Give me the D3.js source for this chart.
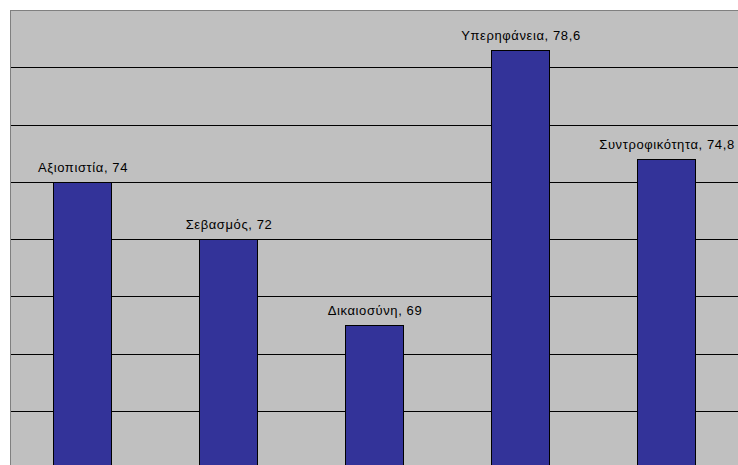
<!DOCTYPE html>
<html>
<head>
<meta charset="utf-8">
<script src="https://cdn.jsdelivr.net/npm/d3@7"></script>
<style>
  html, body { margin: 0; padding: 0; background: #ffffff; }
  svg { display: block; }
</style>
</head>
<body>
<svg id="chart" width="738" height="465"></svg>
<script>
// Category names and scores
const categories = ["Αξιοπιστία", "Σεβασμός", "Δικαιοσύνη", "Υπερηφάνεια", "Συντροφικότητα"];
const values = [74, 72, 69, 78.6, 74.8];
const valueLabels = ["74", "72", "69", "78,6", "74,8"];
// Value axis gridlines
const gridTicks = [66, 68, 70, 72, 74, 76, 78];

const svg = d3.select("#chart");
const plot = { left: 10, top: 10, right: 740, bottom: 468 };

const x = d3.scaleBand()
  .domain(categories)
  .range([plot.left, plot.right])
  .paddingInner(0.6)
  .paddingOuter(0.3);

const y = d3.scaleLinear()
  .domain([64, 80])
  .range([plot.bottom, plot.top]);

// Plot area background
svg.append("rect")
  .attr("x", plot.left + 0.5)
  .attr("y", plot.top + 0.5)
  .attr("width", plot.right - plot.left)
  .attr("height", plot.bottom - plot.top)
  .attr("fill", "#c0c0c0")
  .attr("stroke", "#808080")
  .attr("stroke-width", 1);

// Horizontal gridlines
svg.append("g")
  .selectAll("line")
  .data(gridTicks)
  .join("line")
  .attr("x1", plot.left + 1)
  .attr("x2", plot.right)
  .attr("y1", d => Math.round(y(d)) + 0.5)
  .attr("y2", d => Math.round(y(d)) + 0.5)
  .attr("stroke", "#000000")
  .attr("stroke-width", 1);

const data = categories.map((c, i) => ({ name: c, value: values[i], label: valueLabels[i] }));

// Bars
svg.append("g")
  .selectAll("rect")
  .data(data)
  .join("rect")
  .attr("x", d => Math.floor(x(d.name)) + 0.5)
  .attr("y", d => Math.round(y(d.value)) + 0.5)
  .attr("width", Math.round(x.bandwidth()))
  .attr("height", d => plot.bottom - Math.round(y(d.value)))
  .attr("fill", "#333399")
  .attr("stroke", "#000000")
  .attr("stroke-width", 1);

// Data labels: "category, value"
svg.append("g")
  .selectAll("text")
  .data(data)
  .join("text")
  .attr("x", d => x(d.name) + x.bandwidth() / 2)
  .attr("y", d => y(d.value) - 10)
  .attr("text-anchor", "middle")
  .attr("font-family", "Liberation Sans, Arial, sans-serif")
  .attr("font-size", 13)
  .attr("letter-spacing", 0.6)
  .attr("fill", "#000000")
  .text(d => `${d.name}, ${d.label}`);
</script>
</body>
</html>
